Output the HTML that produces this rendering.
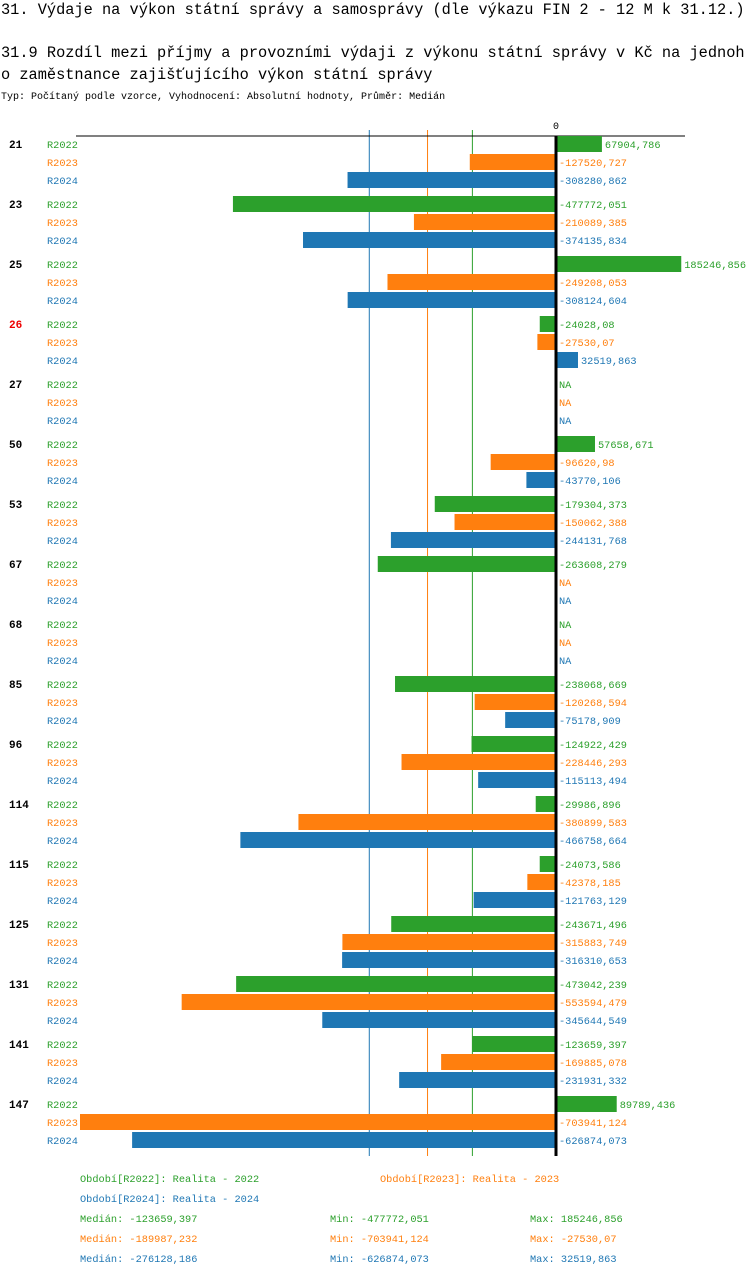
<!DOCTYPE html>
<html><head><meta charset="utf-8">
<style>
body{margin:0;background:#fff;width:750px;height:1276px;overflow:hidden;font-family:"Liberation Mono","DejaVu Sans Mono",monospace}
svg{display:block}
text{font-family:"Liberation Mono","DejaVu Sans Mono",monospace}
</style></head><body>
<svg id="c" width="750" height="1276" xmlns="http://www.w3.org/2000/svg">
<text x="1" y="14" font-size="15.3">31. Výdaje na výkon státní správy a samosprávy (dle výkazu FIN 2 - 12 M k 31.12.)</text>
<text x="1" y="57" font-size="15.3">31.9 Rozdíl mezi příjmy a provozními výdaji z výkonu státní správy v Kč na jednoh</text>
<text x="1" y="79" font-size="15.3">o zaměstnance zajišťujícího výkon státní správy</text>
<text x="1" y="99" font-size="10">Typ: Počítaný podle vzorce, Vyhodnocení: Absolutní hodnoty, Průměr: Medián</text>
<g id="plot"></g>
</svg>
<script>
const groups=["21","23","25","26","27","50","53","67","68","85","96","114","115","125","131","141","147"];
const seriesNames=["R2022","R2023","R2024"];
const v2022=[67904.786,-477772.051,185246.856,-24028.08,null,57658.671,-179304.373,-263608.279,null,-238068.669,-124922.429,-29986.896,-24073.586,-243671.496,-473042.239,-123659.397,89789.436];
const v2023=[-127520.727,-210089.385,-249208.053,-27530.07,null,-96620.98,-150062.388,null,null,-120268.594,-228446.293,-380899.583,-42378.185,-315883.749,-553594.479,-169885.078,-703941.124];
const v2024=[-308280.862,-374135.834,-308124.604,32519.863,null,-43770.106,-244131.768,null,null,-75178.909,-115113.494,-466758.664,-121763.129,-316310.653,-345644.549,-231931.332,-626874.073];
const medians=[-123659.397,-189987.232,-276128.186];
const mins=[-477772.051,-703941.124,-626874.073];
const maxs=[185246.856,-27530.07,32519.863];
const colors=["#2ca02c","#ff7f0e","#1f77b4"];
const NS="http://www.w3.org/2000/svg";
const g=document.getElementById('plot');
const X0=556,SC=476/703941.124;
const x=v=>X0+v*SC;
const fmt=v=>String(v).replace('.',',');
function el(t,a,txt){const e=document.createElementNS(NS,t);for(const k in a)e.setAttribute(k,a[k]);if(txt!==undefined)e.textContent=txt;g.appendChild(e);return e;}
const series=[v2022,v2023,v2024];
const axisTop=136,axisBottom=1156;
medians.forEach((m,i)=>{
 const l=el('line',{x1:x(m),x2:x(m),y1:130,y2:axisBottom,stroke:colors[i],'stroke-width':1});
 
 
});
const ax=el('line',{x1:76,x2:685,y1:axisTop,y2:axisTop,stroke:'#000','stroke-width':1});


const zl=el('text',{x:X0,y:129,'font-size':10,'text-anchor':'middle'},'0');


groups.forEach((gn,gi)=>{
 const gy=144+gi*60;
 const gl=el('text',{x:9,y:gy+4,'font-size':11,'font-weight':'bold',fill:gn==="26"?'#e00':'#000'},gn);
 
 
 series.forEach((s,si)=>{
  const cy=gy+si*18;
  const sl=el('text',{x:47,y:cy+4,'font-size':10.3,fill:colors[si]},seriesNames[si]);
  
  
  const v=s[gi];
  if(v===null){
   const na=el('text',{x:559,y:cy+4,'font-size':10.3,fill:colors[si]},'NA');
   
   
   return;
  }
  const xa=Math.min(x(v),X0),xb=Math.max(x(v),X0);
  const r=el('rect',{x:xa,y:cy-8,width:xb-xa,height:16,fill:colors[si]});
  
  
  const tx=v>0?x(v)+3:559;
  const t=el('text',{x:tx,y:cy+4,'font-size':10.3,fill:colors[si]},fmt(v));
  
  
 });
});
const zline=el('line',{x1:X0,x2:X0,y1:axisTop,y2:axisBottom,stroke:'#000','stroke-width':3});


const lg=[[80,1182,colors[0],'Období[R2022]: Realita - 2022'],[380,1182,colors[1],'Období[R2023]: Realita - 2023'],[80,1202,colors[2],'Období[R2024]: Realita - 2024']];
lg.forEach(a=>{const t=el('text',{x:a[0],y:a[1],'font-size':10.3,fill:a[2]},a[3]);
 
 });
[0,1,2].forEach(i=>{
 const y=1222+i*20;
 const a=el('text',{x:80,y:y,'font-size':10.3,fill:colors[i]},'Medián: '+fmt(medians[i]));
 
 
 const b=el('text',{x:330,y:y,'font-size':10.3,fill:colors[i]},'Min: '+fmt(mins[i]));
 
 
 const c=el('text',{x:530,y:y,'font-size':10.3,fill:colors[i]},'Max: '+fmt(maxs[i]));
 
 
});
</script>
</body></html>
